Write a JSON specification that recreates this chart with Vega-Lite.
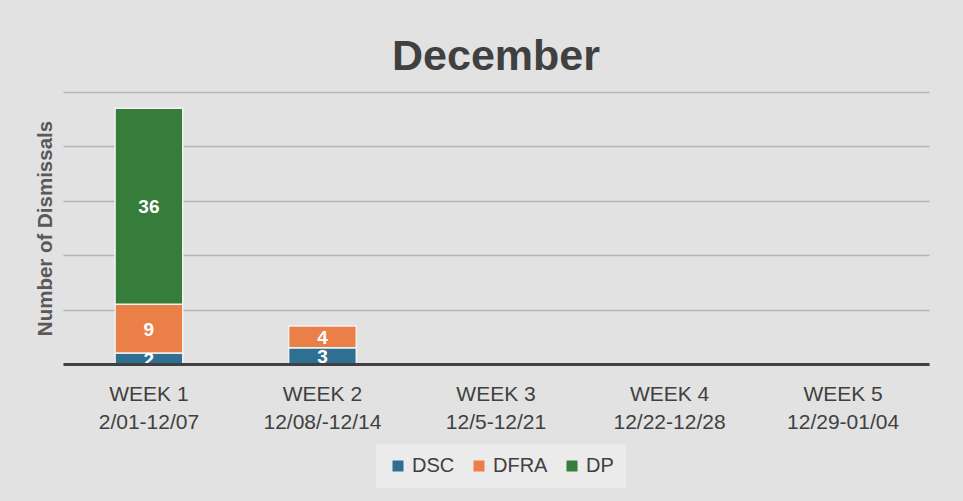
{
  "$schema": "https://vega.github.io/schema/vega-lite/v6.json",
  "autosize": {"type": "none"},
  "width": 866,
  "height": 272,
  "padding": {"left": 63, "top": 92, "right": 34, "bottom": 137},
  "background": "#e2e2e2",
  "title": {
    "text": "December",
    "fontSize": 43,
    "fontWeight": "bold",
    "font": "Liberation Sans",
    "color": "#404040",
    "offset": 13,
    "anchor": "middle"
  },
  "data": {
    "values": [
      {"week": "WEEK 1|2/01-12/07", "type": "DSC", "count": 2},
      {"week": "WEEK 1|2/01-12/07", "type": "DFRA", "count": 9},
      {"week": "WEEK 1|2/01-12/07", "type": "DP", "count": 36},
      {"week": "WEEK 2|12/08/-12/14", "type": "DSC", "count": 3},
      {"week": "WEEK 2|12/08/-12/14", "type": "DFRA", "count": 4}
    ]
  },
  "transform": [
    {"calculate": "indexof(['DSC','DFRA','DP'], datum.type)", "as": "ord"},
    {"stack": "count", "groupby": ["week"], "sort": [{"field": "ord", "order": "ascending"}], "as": ["y0", "y1"]},
    {"calculate": "(datum.y0 + datum.y1) / 2", "as": "ymid"}
  ],
  "encoding": {
    "x": {
      "field": "week",
      "type": "nominal",
      "sort": null,
      "scale": {
        "domain": ["WEEK 1|2/01-12/07", "WEEK 2|12/08/-12/14", "WEEK 3|12/5-12/21", "WEEK 4|12/22-12/28", "WEEK 5|12/29-01/04"],
        "paddingInner": 0.61,
        "paddingOuter": 0.3
      },
      "axis": {
        "title": null,
        "labelExpr": "split(datum.label, '|')",
        "labelAngle": 0,
        "labelFontSize": 21,
        "labelFont": "Liberation Sans",
        "labelColor": "#404040",
        "labelLineHeight": 28,
        "labelPadding": 19,
        "ticks": false,
        "domainColor": "#404040",
        "domainWidth": 3,
        "grid": false,
        "zindex": 1
      }
    }
  },
  "layer": [
    {
      "mark": {"type": "bar", "stroke": "#f2f2f2", "strokeWidth": 1.5},
      "encoding": {
        "y": {
          "field": "y0",
          "type": "quantitative",
          "scale": {"domain": [0, 50], "nice": false},
          "axis": {
            "title": "Number of Dismissals",
            "titleFontSize": 20.5,
            "titleFontWeight": "bold",
            "titleFont": "Liberation Sans",
            "titleColor": "#595959",
            "titlePadding": 8,
            "labels": false,
            "ticks": false,
            "domain": false,
            "values": [0, 10, 20, 30, 40, 50],
            "gridColor": "#b5b5b5",
            "gridWidth": 1.5
          }
        },
        "y2": {"field": "y1"},
        "color": {
          "field": "type",
          "type": "nominal",
          "scale": {"domain": ["DSC", "DFRA", "DP"], "range": ["#2f6f91", "#eb7f48", "#367c3b"]},
          "legend": {
            "title": null,
            "orient": "none",
            "legendX": 313,
            "legendY": 352,
            "direction": "horizontal",
            "symbolType": "square",
            "symbolSize": 121,
            "symbolStrokeWidth": 0,
            "labelFontSize": 20,
            "labelFont": "Liberation Sans",
            "labelColor": "#404040",
            "labelOffset": 4,
            "columnPadding": 14,
            "padding": 12,
            "fillColor": "#ebebeb"
          }
        }
      }
    },
    {
      "mark": {"type": "text", "color": "#ffffff", "fontSize": 19, "fontWeight": "bold", "font": "Liberation Sans", "baseline": "middle", "dy": 1},
      "encoding": {
        "y": {"field": "ymid", "type": "quantitative"},
        "text": {"field": "count", "type": "quantitative"}
      }
    }
  ],
  "config": {"view": {"stroke": null}}
}
